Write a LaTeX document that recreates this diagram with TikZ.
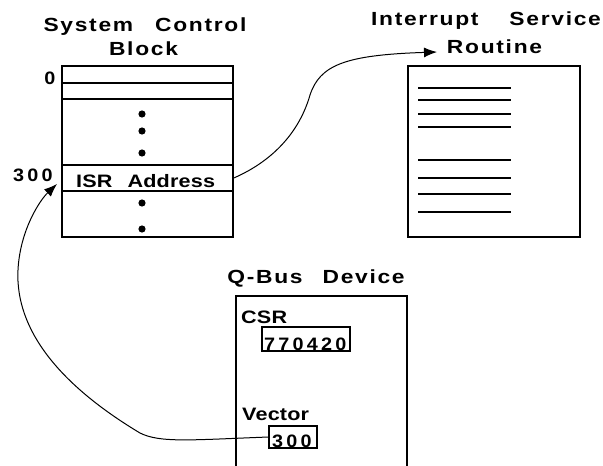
\documentclass[tikz,border=0pt]{standalone}
\usepackage{fontspec}
\setmainfont{Liberation Sans}
\newfontfamily\ttlfont[LetterSpace=9,FakeStretch=1.2]{Liberation Sans}
\newfontfamily\txtfont[LetterSpace=1,FakeStretch=1.2]{Liberation Sans}
\newfontfamily\digfont[LetterSpace=18,FakeStretch=1.1]{Liberation Sans}
\usetikzlibrary{arrows.meta}
\tikzset{
  ttl/.style={inner sep=0pt,anchor=base,font=\ttlfont\bfseries\fontsize{19}{22}\selectfont},
  txt/.style={inner sep=0pt,anchor=base west,font=\txtfont\bfseries\fontsize{18}{20}\selectfont},
  dig/.style={inner sep=0pt,font=\digfont\bfseries\fontsize{18}{20}\selectfont},
  blk/.style={draw,line width=1.6pt,inner sep=0pt},
  conn/.style={line width=1pt,-{Latex[length=13pt,width=10pt]}},
}
\begin{document}
\begin{tikzpicture}[x=1pt,y=-1pt]
  \useasboundingbox (0,0) rectangle (603,466);
  % titles
  \node[ttl] (scbt) at (145,31) {System\hspace{22pt}Control};
  \node[ttl] (scbb) at (143.5,55) {Block};
  \node[ttl] (isrt) at (486,25) {Interrupt\hspace{31pt}Service};
  \node[ttl] (isrb) at (494.5,53) {Routine};
  \node[ttl] (qbt) at (316,283) {Q-Bus\hspace{20pt}Device};
  % system control block
  \node[blk,minimum width=171pt,minimum height=171pt] (scb) at (147.5,151.5) {};
  \node[blk,minimum width=171pt,minimum height=16pt] (row0) at (147.5,91) {};
  \node[blk,minimum width=171pt,minimum height=26pt] (isrrow) at (147.5,178) {};
  \node[txt] (isra) at (76,187) {ISR\hspace{15pt}Address};
  \node[dig,anchor=base] (lbl0) at (50,84) {0};
  \node[dig,anchor=base] (lbl300) at (33,181) {300};
  \foreach \y in {114,131,153,203,229}
    \fill (142,\y) circle (3.6);
  % interrupt service routine
  \node[blk,minimum width=172pt,minimum height=171pt] (isr) at (494,151.5) {};
  \foreach \y in {88,100,114,127,160,178,194,212}
    \draw[line width=1.6pt] (418,\y) -- (511,\y);
  % q-bus device
  \draw[line width=1.6pt] (236,470) |- (407,296) -- (407,470);
  \node[txt] (csr) at (241,323) {CSR};
  \draw[line width=1.3pt] (262,327) rectangle (350,351);
  \node[dig,anchor=base west] (csrv) at (264,350) {770420};
  \node[txt] (vec) at (242,420) {Vector};
  \node[blk,line width=1.3pt,minimum width=48pt,minimum height=22pt] (vecbox) at (293,437) {};
  \node[dig,anchor=base west] (vecv) at (272,447) {300};
  % connectors
  \coordinate (rtip) at (437,52);
  \coordinate (vtip) at (57,184);
  \draw[conn] (isrrow.east) .. controls (275,160) and (300,130) .. (310,95)
    .. controls (320,65) and (345,55) .. (rtip);
  \draw[conn] (vecbox.west) .. controls (190,440) and (160,443) .. (140,433)
    .. controls (60,385) and (15,330) .. (18,270)
    .. controls (20,230) and (40,200) .. (vtip);
\end{tikzpicture}
\end{document}
